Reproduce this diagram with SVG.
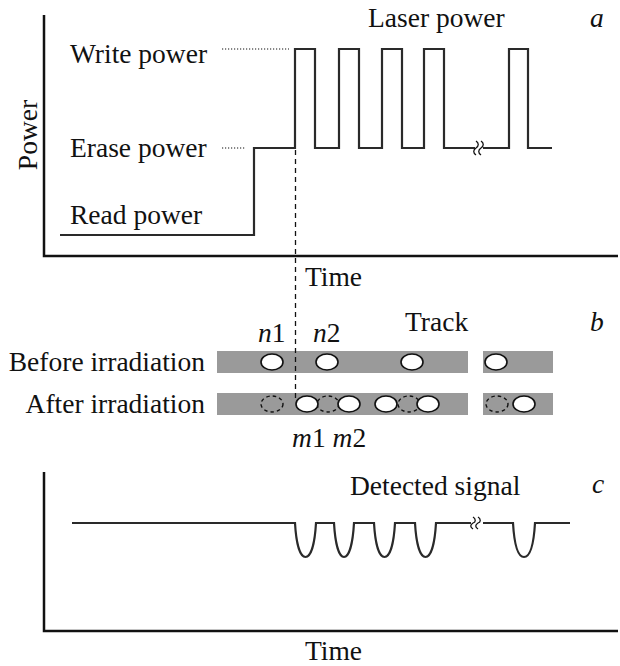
<svg xmlns="http://www.w3.org/2000/svg" width="620" height="666" viewBox="0 0 620 666">
<g id="panel-a">
  <path d="M44 15 V256 H618" fill="none" stroke="#111" stroke-width="2.5"/>
  <g fill="#111" font-size="27.5">
    <text style="font-family:'Liberation Serif'" font-family="Liberation Serif" transform="translate(37 135) rotate(-90)" text-anchor="middle">Power</text>
    <text style="font-family:'Liberation Serif'" font-family="Liberation Serif" x="70" y="63">Write power</text>
    <text style="font-family:'Liberation Serif'" font-family="Liberation Serif" x="70" y="157">Erase power</text>
    <text style="font-family:'Liberation Serif'" font-family="Liberation Serif" x="70" y="224">Read power</text>
    <text style="font-family:'Liberation Serif'" font-family="Liberation Serif" x="368" y="27">Laser power</text>
    <text style="font-family:'Liberation Serif'" font-family="Liberation Serif" font-style="italic" x="590" y="27">a</text>
    <text style="font-family:'Liberation Serif'" font-family="Liberation Serif" x="305" y="286">Time</text>
  </g>
  <path d="M60 235 H254 V148 H295 V49 H315 V148 H339 V49 H359 V148 H382 V49 H402 V148 H424 V49 H444 V148 H475 M483 148 H509 V49 H528 V148 H552" fill="none" stroke="#2a2a2a" stroke-width="2.2"/>
  <path d="M476 141 c3 2 3 5 0 7 c-3 2 -3 5 0 7 M481 141 c3 2 3 5 0 7 c-3 2 -3 5 0 7" fill="none" stroke="#111" stroke-width="1.3"/>
</g>

<g id="panel-b">
  <g fill="#111" font-size="27.5">
    <text style="font-family:'Liberation Serif'" font-family="Liberation Serif" x="405" y="331">Track</text>
    <text style="font-family:'Liberation Serif'" font-family="Liberation Serif" font-style="italic" x="590" y="331">b</text>
    <text style="font-family:'Liberation Serif'" font-family="Liberation Serif" x="258" y="342"><tspan font-style="italic">n</tspan>1</text>
    <text style="font-family:'Liberation Serif'" font-family="Liberation Serif" x="313" y="342"><tspan font-style="italic">n</tspan>2</text>
    <text style="font-family:'Liberation Serif'" font-family="Liberation Serif" x="205" y="371" text-anchor="end">Before irradiation</text>
    <text style="font-family:'Liberation Serif'" font-family="Liberation Serif" x="205" y="413" text-anchor="end">After irradiation</text>
    <text style="font-family:'Liberation Serif'" font-family="Liberation Serif" x="292" y="447"><tspan font-style="italic">m</tspan>1 <tspan font-style="italic">m</tspan>2</text>
  </g>
  <g id="track-bars" fill="#9a9a9a">
    <rect x="217" y="351" width="251" height="22"/>
    <rect x="483" y="351" width="70" height="22"/>
    <rect x="217" y="393" width="251" height="22"/>
    <rect x="483" y="393" width="70" height="22"/>
  </g>
  <g id="before-spots" fill="#fff" stroke="#111" stroke-width="1.6">
    <ellipse cx="272" cy="362" rx="11" ry="8"/>
    <ellipse cx="327" cy="362" rx="11" ry="8"/>
    <ellipse cx="412" cy="362" rx="11" ry="8"/>
    <ellipse cx="496" cy="362" rx="11" ry="8"/>
  </g>
  <g id="erased-spots" fill="none" stroke="#111" stroke-width="1.4" stroke-dasharray="3.5 3">
    <ellipse cx="272" cy="404" rx="11" ry="8"/>
    <ellipse cx="328" cy="404" rx="11" ry="8"/>
    <ellipse cx="409" cy="404" rx="11" ry="8"/>
    <ellipse cx="497" cy="404" rx="11" ry="8"/>
  </g>
  <g id="after-spots" fill="#fff" stroke="#111" stroke-width="1.6">
    <ellipse cx="307" cy="404" rx="11" ry="8"/>
    <ellipse cx="349" cy="404" rx="11" ry="8"/>
    <ellipse cx="386" cy="404" rx="11" ry="8"/>
    <ellipse cx="428" cy="404" rx="11" ry="8"/>
    <ellipse cx="524" cy="404" rx="11" ry="8"/>
  </g>
</g>

<g id="panel-c">
  <path d="M44 472 V631 H618" fill="none" stroke="#111" stroke-width="2.5"/>
  <g fill="#111" font-size="27.5">
    <text style="font-family:'Liberation Serif'" font-family="Liberation Serif" x="350" y="495">Detected signal</text>
    <text style="font-family:'Liberation Serif'" font-family="Liberation Serif" font-style="italic" x="592" y="493">c</text>
    <text style="font-family:'Liberation Serif'" font-family="Liberation Serif" x="305" y="660">Time</text>
  </g>
  <path d="M72 523 H295 C296 540 299 557 305.5 557 C312 557 315 540 316 523 H334 C335 540 338 557 344 557 C350 557 353 540 354 523 H374 C375 540 378 557 384.5 557 C391 557 394 540 395 523 H415 C416 540 419 557 425.5 557 C432 557 435 540 436 523 H471 M483 523 H513 C514 540 517 557 524 557 C531 557 534 540 535 523 H570" fill="none" stroke="#2a2a2a" stroke-width="2.2"/>
  <path d="M473 517 c3 2 3 5 0 6 c-3 2 -3 4 0 6 M478 517 c3 2 3 5 0 6 c-3 2 -3 4 0 6" fill="none" stroke="#111" stroke-width="1.3"/>
</g>

<g id="connectors" fill="none" stroke="#111">
  <path d="M222 49 H289" stroke-width="1.2" stroke-dasharray="1.2 1.8"/>
  <path d="M222 148 H246" stroke-width="1.2" stroke-dasharray="1.2 1.8"/>
  <path d="M295.5 150 V402" stroke-width="1.3" stroke-dasharray="5 4"/>
</g>
</svg>
